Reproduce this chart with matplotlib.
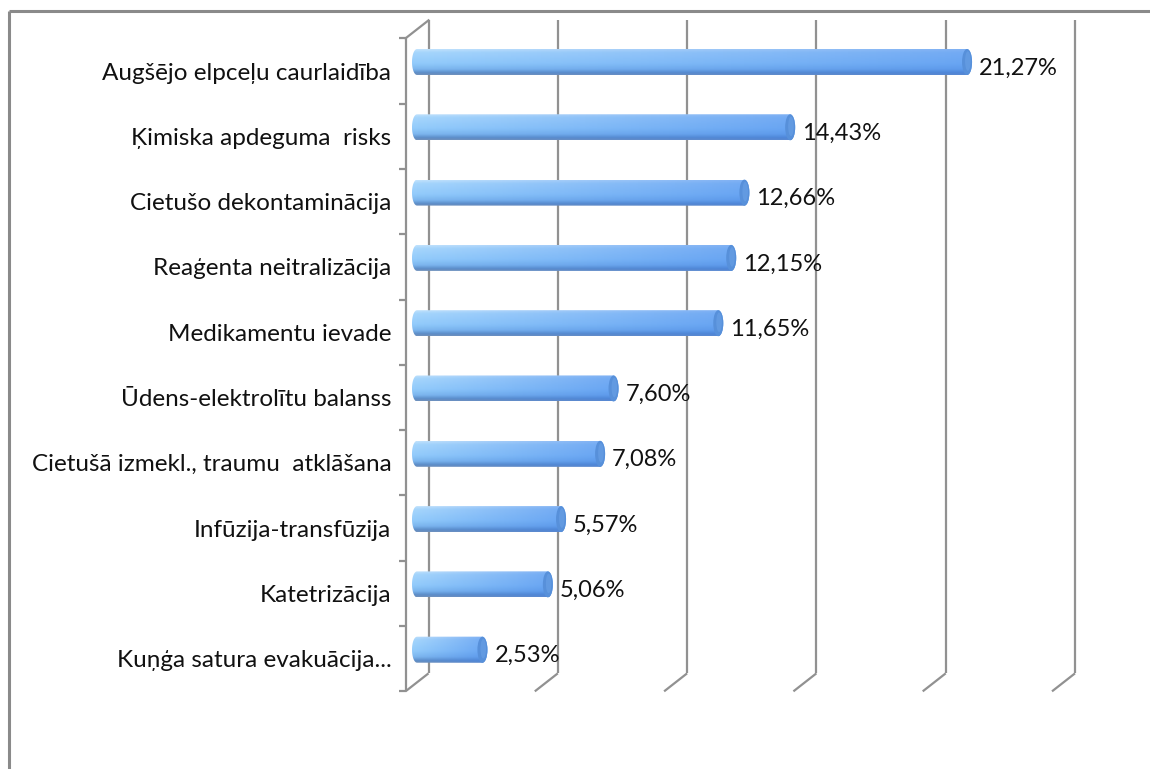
import matplotlib
matplotlib.use("Agg")
import matplotlib.pyplot as plt
import numpy as np
from matplotlib.path import Path
from matplotlib.patches import PathPatch, Ellipse
from matplotlib.colors import LinearSegmentedColormap

categories = [
    "Augšējo elpceļu caurlaidība",
    "Ķimiska apdeguma  risks",
    "Cietušo dekontaminācija",
    "Reaģenta neitralizācija",
    "Medikamentu ievade",
    "Ūdens-elektrolītu balanss",
    "Cietušā izmekl., traumu  atklāšana",
    "Infūzija-transfūzija",
    "Katetrizācija",
    "Kuņģa satura evakuācija...",
]
values = [21.27, 14.43, 12.66, 12.15, 11.65, 7.60, 7.08, 5.57, 5.06, 2.53]
value_labels = ["21,27%", "14,43%", "12,66%", "12,15%", "11,65%",
                "7,60%", "7,08%", "5,57%", "5,06%", "2,53%"]
grid_ticks = [0, 5, 10, 15, 20, 25]

W, H = 1150, 769
fig = plt.figure(figsize=(W / 100, H / 100), dpi=100)
ax = fig.add_axes([0, 0, 1, 1])

# pixel mapping
x0_px, ppx = 417.0, 25.86      # px of value 0 (mid depth), px per %
y0_px, ppy = 62.0, 65.3        # px of first category centre, px per category
xmin = (0 - x0_px) / ppx
xmax = (W - x0_px) / ppx
ymin = (0 - y0_px) / ppy
ymax = (H - y0_px) / ppy
ax.set_xlim(xmin, xmax)
ax.set_ylim(ymax, ymin)
ax.axis("off")

def dx(px):
    return px / ppx

def dy(px):
    return px / ppy

n = len(categories)
fdx, fdy = dx(-11.5), dy(9.0)   # front
bdx, bdy = dx(11.5), dy(-9.0)   # back
top_mid, bot_mid = -0.5, n - 0.5
gcol = "#919191"
glw = 1.6

for t in grid_ticks:
    ax.plot([t + bdx, t + bdx], [top_mid + bdy, bot_mid + bdy], color=gcol, lw=glw,
            solid_capstyle="butt", zorder=1)
    ax.plot([t + bdx, t + fdx], [bot_mid + bdy, bot_mid + fdy], color=gcol, lw=glw,
            solid_capstyle="butt", zorder=1)
ax.plot([0 + fdx, 0 + bdx], [top_mid + fdy, top_mid + bdy], color=gcol, lw=glw, zorder=1)
ax.plot([0 + fdx, 0 + fdx], [top_mid + fdy, bot_mid + fdy], color=gcol, lw=glw,
        solid_capstyle="butt", zorder=1)
for k in range(n + 1):
    yy = -0.5 + k + fdy
    ax.plot([0 + fdx - dx(7), 0 + fdx], [yy, yy], color=gcol, lw=glw,
            solid_capstyle="butt", zorder=1)

# outer frame (top and left)
ax.plot([dx(8.5) + xmin, xmax], [dy(11) + ymin, dy(11) + ymin], color="#8a8a8a",
        lw=2.2, zorder=1, solid_capstyle="butt")
ax.plot([dx(9) + xmin, dx(9) + xmin], [dy(11) + ymin, ymax], color="#8a8a8a",
        lw=2.2, zorder=1, solid_capstyle="butt")

body_cmap = LinearSegmentedColormap.from_list(
    "body", [(0.0, "#c2e3fd"), (0.12, "#a6d6fd"), (0.55, "#92cbfb"),
             (0.78, "#7cb6ee"), (0.92, "#5c8cc6"), (1.0, "#7393bb")])
hor_dark = LinearSegmentedColormap.from_list("hd", [(0, (0.25, 0.5, 0.92, 0.0)),
                                                    (1, (0.25, 0.5, 0.92, 0.5))])

bh = dy(26)
cap_a = dx(5.0)

for i, v in enumerate(values):
    yc = i
    yt, yb = yc - bh / 2, yc + bh / 2
    th_l = np.linspace(np.pi / 2, 3 * np.pi / 2, 30)
    lpts = np.column_stack([cap_a * np.cos(th_l), yc - (bh / 2) * np.sin(th_l)])
    th_r = np.linspace(-np.pi / 2, np.pi / 2, 30)
    rpts = np.column_stack([v + cap_a * np.cos(th_r), yc - (bh / 2) * np.sin(th_r)])
    pts = np.vstack([lpts, rpts, lpts[:1]])
    patch = PathPatch(Path(pts, closed=True), facecolor="none", edgecolor="none")
    ax.add_patch(patch)
    grad = np.linspace(0, 1, 64).reshape(-1, 1)
    im = ax.imshow(grad, cmap=body_cmap, aspect="auto",
                   extent=(-cap_a, v + cap_a, yb, yt), zorder=3, interpolation="bicubic")
    im.set_clip_path(patch)
    hgrad = np.linspace(0, 1, 64).reshape(1, -1)
    im2 = ax.imshow(hgrad, cmap=hor_dark, aspect="auto",
                    extent=(-cap_a, v + cap_a, yb, yt), zorder=3.5, interpolation="bicubic")
    im2.set_clip_path(patch)
    cap = Ellipse((v, yc), 2 * cap_a, bh, facecolor="#5790da", edgecolor="none",
                  zorder=4)
    ax.add_patch(cap)
    hl = Ellipse((v + dx(0.8), yc - dy(1)), 1.1 * cap_a, bh * 0.75,
                 facecolor="#669de4", edgecolor="none", zorder=4.2, alpha=0.8)
    ax.add_patch(hl)
    ax.text(v + dx(12), yc + dy(6), value_labels[i], ha="left", va="center",
            fontsize=17, family="Lato", color="#111111", zorder=5)

for i, c in enumerate(categories):
    ax.text(0 + fdx - dx(14), i + dy(11), c, ha="right", va="center",
            fontsize=17.5, family="Lato", color="#111111", zorder=5)

fig.savefig("out.png", dpi=100)
